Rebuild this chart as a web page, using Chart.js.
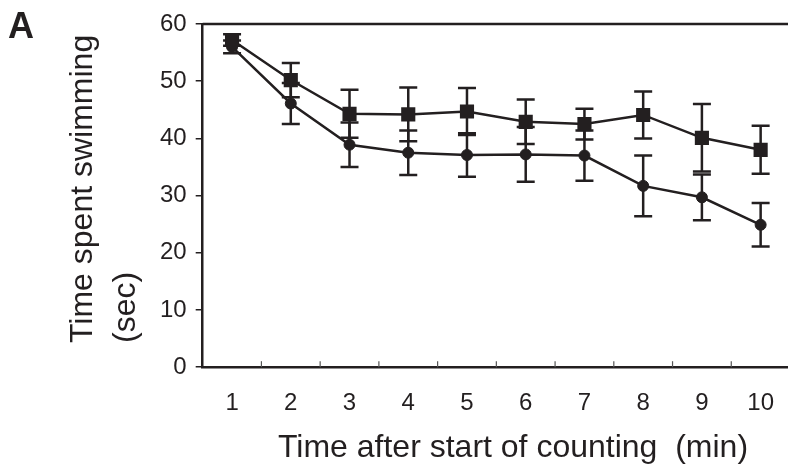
<!DOCTYPE html>
<html>
<head>
<meta charset="utf-8">
<script src="https://cdn.jsdelivr.net/npm/chart.js@4.4.1/dist/chart.umd.min.js"></script>
<style>
  html, body { margin: 0; padding: 0; background: #fff; overflow: hidden; }
  #wrap { width: 800px; height: 470px; }
</style>
</head>
<body>
<div id="wrap"><canvas id="swim-chart" width="800" height="470"></canvas></div>
<script>
// minutos após o início da contagem
const minutos = ['1', '2', '3', '4', '5', '6', '7', '8', '9', '10'];

// série com quadrados (superior)
const quadrados = [57.2, 50.2, 44.3, 44.2, 44.7, 42.9, 42.5, 44.1, 40.1, 38.0];
const erroQuadrados = [1.0, 3.0, 4.2, 4.7, 4.1, 3.9, 2.7, 4.1, 5.9, 4.2];

// série com círculos (inferior)
const circulos = [56.0, 46.1, 38.9, 37.5, 37.1, 37.2, 37.0, 31.7, 29.7, 24.9];
const erroCirculos = [1.1, 3.6, 3.9, 3.9, 3.8, 4.8, 4.4, 5.3, 4.0, 3.8];

const yTicks = [0, 10, 20, 30, 40, 50, 60];

const cor = '#231f20';

// barras de erro, moldura superior, marcas do eixo x e títulos
const extras = {
    id: 'extras',
    beforeDatasetsDraw(chart) {
        const ctx = chart.ctx;
        const x = chart.scales.x;
        const y = chart.scales.y;
        ctx.save();
        ctx.strokeStyle = cor;
        ctx.lineWidth = 2.5;
        chart.data.datasets.forEach(ds => {
            ds.data.forEach((v, i) => {
                const px = x.getPixelForValue(i);
                const top = y.getPixelForValue(v + ds.erro[i]);
                const bot = y.getPixelForValue(v - ds.erro[i]);
                ctx.beginPath();
                ctx.moveTo(px, top); ctx.lineTo(px, bot);
                ctx.moveTo(px - 9, top); ctx.lineTo(px + 9, top);
                ctx.moveTo(px - 9, bot); ctx.lineTo(px + 9, bot);
                ctx.stroke();
            });
        });
        ctx.restore();
    },
    afterDraw(chart) {
        const ctx = chart.ctx;
        const area = chart.chartArea;
        const x = chart.scales.x;
        ctx.save();
        ctx.strokeStyle = cor;
        // linha superior
        ctx.lineWidth = 2.5;
        ctx.beginPath();
        ctx.moveTo(area.left, area.top);
        ctx.lineTo(chart.width, area.top);
        ctx.stroke();
        // marcas internas do eixo x
        ctx.lineWidth = 1.2;
        ctx.strokeStyle = '#555';
        for (let i = 0; i < minutos.length - 1; i++) {
            const px = x.getPixelForValue(i + 0.5);
            ctx.beginPath();
            ctx.moveTo(px, area.bottom);
            ctx.lineTo(px, area.bottom - 6);
            ctx.stroke();
        }
        // títulos
        ctx.fillStyle = cor;
        ctx.font = '32px "Liberation Sans", Arial, sans-serif';
        ctx.textAlign = 'center';
        ctx.textBaseline = 'alphabetic';
        ctx.fillText('Time after start of counting  (min)', 513, 457);

        ctx.save();
        ctx.rotate(-Math.PI / 2);
        ctx.textAlign = 'left';
        ctx.fillText('Time spent swimming', -343, 92);
        ctx.fillText('(sec)', -343, 135);
        ctx.restore();

        ctx.font = 'bold 36px "Liberation Sans", Arial, sans-serif';
        ctx.textAlign = 'left';
        ctx.fillText('A', 8, 38);
        ctx.restore();
    }
};

new Chart(document.getElementById('swim-chart'), {
    type: 'line',
    data: {
        labels: minutos,
        datasets: [
            {
                label: 'quadrados',
                data: quadrados,
                erro: erroQuadrados,
                borderColor: cor,
                backgroundColor: cor,
                borderWidth: 2.5,
                pointStyle: 'rect',
                pointRadius: 10,
                pointBorderWidth: 0,
                tension: 0,
                fill: false
            },
            {
                label: 'círculos',
                data: circulos,
                erro: erroCirculos,
                borderColor: cor,
                backgroundColor: cor,
                borderWidth: 2.5,
                pointStyle: 'circle',
                pointRadius: 5.5,
                pointBorderWidth: 1,
                tension: 0,
                fill: false
            }
        ]
    },
    options: {
        responsive: false,
        animation: false,
        layout: {
            padding: { left: 151, right: 8, top: 24, bottom: 30 }
        },
        plugins: {
            legend: { display: false },
            tooltip: { enabled: false }
        },
        scales: {
            x: {
                offset: true,
                grid: { display: false, drawTicks: false },
                border: { display: true, color: cor, width: 2.5 },
                ticks: {
                    color: cor,
                    padding: 22,
                    font: { family: '"Liberation Sans", Arial, sans-serif', size: 24 }
                }
            },
            y: {
                min: 0,
                max: 60,
                afterBuildTicks: scale => {
                    scale.ticks = yTicks.map(v => ({ value: v }));
                },
                grid: {
                    drawOnChartArea: false,
                    drawTicks: true,
                    tickLength: 7,
                    color: cor,
                    lineWidth: 1.5
                },
                border: { display: true, color: cor, width: 2.5 },
                ticks: {
                    color: cor,
                    padding: 9,
                    font: { family: '"Liberation Sans", Arial, sans-serif', size: 24 }
                }
            }
        }
    },
    plugins: [extras]
});
</script>
</body>
</html>
